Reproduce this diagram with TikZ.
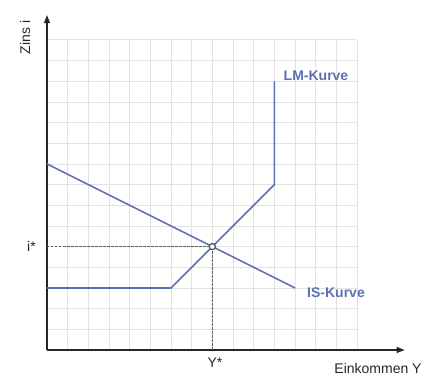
\documentclass[tikz,border=0pt]{standalone}
\usepackage{fontspec}
\setmainfont{Liberation Sans}
\usetikzlibrary{arrows.meta}
\definecolor{curveblue}{RGB}{92,112,178}
\definecolor{gridgray}{RGB}{226,226,226}
\definecolor{dashgray}{RGB}{90,90,90}
\tikzset{
  gridline/.style={draw=gridgray, line width=0.9pt},
  axisline/.style={draw=black!85, line width=1.1pt, -{Triangle[length=8pt,width=6pt]}},
  curve/.style={draw=curveblue, line width=1.6pt, line join=round},
  guide/.style={draw=dashgray, line width=0.8pt, dash pattern=on 2.5pt off 1.5pt},
  axislabel/.style={font=\fontsize{14}{16}\selectfont, text=black!85, inner sep=0pt},
  curvelabel/.style={font=\fontsize{14}{16}\selectfont\bfseries, text=curveblue, inner sep=0pt},
  eqpoint/.style={circle, draw=dashgray, fill=white, line width=1.2pt, minimum size=6pt, inner sep=0pt}
}
\begin{document}
\begin{tikzpicture}[x=20.67pt, y=20.67pt]
\useasboundingbox (-47pt,-37pt) rectangle (397pt,350pt);
% grid
\foreach \i in {1,...,15} {
  \draw[gridline] (\i,0) -- (\i,15);
  \draw[gridline] (0,\i) -- (15,\i);
}
% axes
\coordinate (O) at (0,0);
\coordinate (ytip) at (0,16.2);
\coordinate (xtip) at (17.3,0);
\draw[axisline] (O) -- (ytip);
\draw[axisline] (O) -- (xtip);
% equilibrium
\node[eqpoint] (E) at (8,5) {};
\coordinate (ix) at (0,5);
\coordinate (yx) at (8,0);
\draw[guide] (ix) -- (E.west);
\draw[guide] (yx) -- (E.south);
% LM curve
\coordinate (lm1) at (0,3);
\coordinate (lm2) at (6,3);
\coordinate (lm3) at (11,8);
\coordinate (lm4) at (11,13);
\draw[curve] (lm1) -- (lm2) -- (E.center) -- (lm3) -- (lm4);
% IS curve
\coordinate (is1) at (0,9);
\coordinate (is2) at (12,3);
\draw[curve] (is1) -- (E.center) -- (is2);
\node[eqpoint] at (E) {};
% labels
\node[axislabel, rotate=90] (zins) at (-22pt,312.5pt) {Zins i};
\node[axislabel] (istar) at (-15.5pt,104pt) {i*};
\node[axislabel] (ystar) at (168pt,-13pt) {Y*};
\node[axislabel] (eink) at (331pt,-18pt) {Einkommen Y};
\node[curvelabel] (lm) at (269pt,274pt) {LM-Kurve};
\node[curvelabel] (is) at (289pt,57pt) {IS-Kurve};
\end{tikzpicture}
\end{document}
